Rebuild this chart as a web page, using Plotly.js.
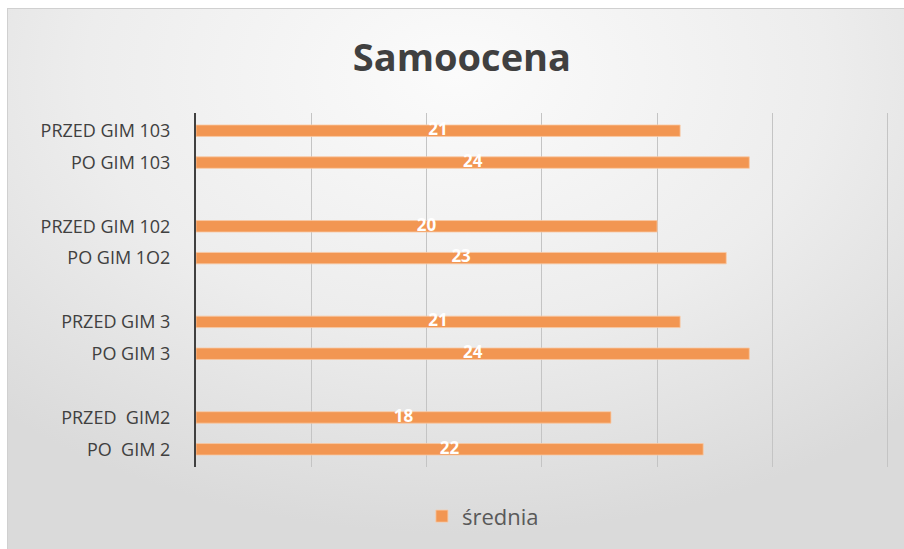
<!DOCTYPE html>
<html>
<head>
<meta charset="utf-8">
<script src="https://cdn.plot.ly/plotly-3.0.1.min.js"></script>
<style>
html, body { margin:0; padding:0; background:#ffffff; }
#bg { position:absolute; left:7px; top:8px; width:897px; height:541px;
  background: radial-gradient(ellipse 75% 85% at 50% 12%, #fbfbfb 0%, #ededed 55%, #dadada 100%);
  border-top:1px solid #d0d0d0; border-left:1px solid #d0d0d0; }
#chart { position:absolute; left:0; top:0; width:904px; height:549px; }
</style>
</head>
<body>
<div id="bg"></div>
<div id="chart"></div>
<script>
// Categories top to bottom (blank entries are spacer slots)
const categories = ['PRZED GIM 103', 'PO GIM 103', ' ', 'PRZED GIM 102', 'PO GIM 1O2', '  ',
                    'PRZED GIM 3', 'PO GIM 3', '   ', 'PRZED  GIM2', 'PO  GIM 2'];
const srednia = [21, 24, null, 20, 23, null, 21, 24, null, 18, 22];
const seriesName = 'średnia';

const labelX = srednia.map(v => v === null ? null : v / 2);
const labelText = srednia.map(v => v === null ? '' : String(v));

const traces = [
  {
    type: 'bar', orientation: 'h', name: seriesName,
    x: srednia, y: categories, width: 0.36,
    marker: { color: '#F29652', line: { color: '#f9c9a4', width: 0.8 } },
    hoverinfo: 'x+y'
  },
  {
    type: 'scatter', mode: 'text', x: labelX, y: categories,
    text: labelText, textposition: 'middle center',
    textfont: { family: 'Open Sans, sans-serif', size: 17, color: '#ffffff', weight: 'bold' },
    showlegend: false, hoverinfo: 'skip'
  }
];

const layout = {
  width: 904, height: 549,
  paper_bgcolor: 'rgba(0,0,0,0)', plot_bgcolor: 'rgba(0,0,0,0)',
  margin: { l: 196, r: 15, t: 113, b: 76 },
  title: { text: '<b>Samoocena</b>', x: 0.511, xanchor: 'center', y: 0.895, yanchor: 'middle',
           font: { family: 'Open Sans, sans-serif', size: 38, color: '#404040' } },
  xaxis: { range: [0, 30.06], dtick: 5, tick0: 0, showticklabels: false, showgrid: true,
           gridcolor: '#c4c4c4', gridwidth: 1, zeroline: false, fixedrange: true },
  yaxis: { type: 'category', autorange: 'reversed', showline: true, linecolor: '#404040',
           linewidth: 2, showgrid: false, ticks: '', ticklen: 0, ticklabelstandoff: 20,
           tickfont: { family: 'Open Sans, sans-serif', size: 18, color: '#404040' } },
  showlegend: true,
  legend: { orientation: 'h', x: 0.414, xanchor: 'center', y: -0.08, yanchor: 'top',
            font: { family: 'Open Sans, sans-serif', size: 22, color: '#595959' },
            bgcolor: 'rgba(0,0,0,0)' },
  bargap: 0.6
};

Plotly.newPlot('chart', traces, layout, { displayModeBar: false, staticPlot: true });
</script>
</body>
</html>
